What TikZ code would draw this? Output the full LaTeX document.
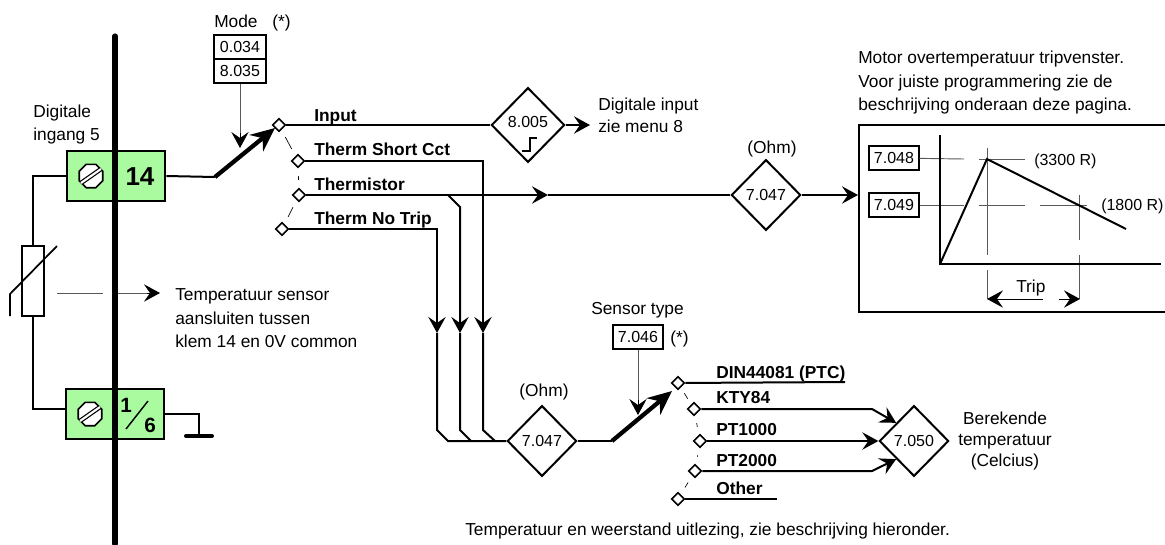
\documentclass[tikz,border=0pt]{standalone}
\usepackage{fontspec}
\setmainfont{Liberation Sans}
\usetikzlibrary{arrows.meta,positioning,shapes.geometric}
\definecolor{klem}{HTML}{AAFBA0}

\begin{document}
\begin{tikzpicture}[
        x=0.75pt, y=-0.75pt,
        every node/.style = {font=\fontsize{13}{15.8}\selectfont, inner sep=0pt},
        value/.style = {font=\fontsize{12}{14}\selectfont},
        bold/.style = {font=\fontsize{13}{15}\selectfont\bfseries, anchor=base west},
        plain/.style = {anchor=base west},
        wire/.style = {line width=1.5pt},
        pointer/.style = {line width=0.7pt, gray!70!black},
        lever/.style = {line width=3.2pt, -{Stealth[length=18pt, width=16pt, inset=6pt]}},
        tip/.style = {-{Stealth[length=12pt, width=13pt, inset=4.5pt]}},
        link/.style = {line width=0.5pt, shorten >=6pt, shorten <=6pt},
        param/.style = {diamond, draw, line width=1.5pt, fill=white, value, minimum width=52pt, minimum height=53pt},
        contact/.style = {diamond, draw, line width=1.2pt, fill=white, minimum size=10pt},
        box/.style = {rectangle, draw, line width=1.5pt, fill=white, value, minimum width=37pt, minimum height=18.5pt},
        klemblok/.style = {rectangle, draw, line width=1.5pt, fill=klem, minimum width=74pt, minimum height=37pt},
        screw/.style = {regular polygon, regular polygon sides=8, draw, line width=1.2pt, fill=white, minimum size=19pt},
        slot/.style = {line width=0.9pt, double=white, double distance=1.6pt}
    ]
    \clip (0,0) rectangle (1165,544);
    \useasboundingbox (0,0) rectangle (1165,544);

    \node[klemblok] (k14) at (116,176) {};
    \node[klemblok] (k16) at (115,414) {};
    \draw[line width=3.8pt, line cap=round] (115,36) -- (115,544);

    \node[screw] (s14) at (91,176) {};
    \node[screw] (s16) at (90,414) {};
    \draw[slot] (s14)+(-10,7) -- +(10,-7);
    \draw[slot] (s16)+(-10,7) -- +(10,-7);
    \node[font=\fontsize{19.5}{20}\selectfont\bfseries] (n14) at (140,177) {14};
    \node[font=\fontsize{15.5}{16}\selectfont\bfseries] (n1) at (126,405) {1};
    \node[font=\fontsize{15.5}{16}\selectfont\bfseries] (n6) at (150,425) {6};
    \draw[line width=1.1pt] (126,429) -- (148,401);

    \node[plain] (ingang) at (33,117) {Digitale};
    \node[plain] (ingang2) at (33,140) {ingang 5};

    \node[rectangle, draw, line width=1.5pt, fill=white, minimum width=17pt, minimum height=52pt] (ptc) at (33,281) {};
    \coordinate (kl) at (66,409);
    \draw[wire] (k14.west) -| (ptc.north);
    \draw[wire] (ptc.south) |- (kl);
    \draw[line width=1.3pt] (10,316) -- (10,294) -- (57,246);

    \coordinate (gnd) at (199,436);
    \coordinate (gndl) at (186,436);
    \coordinate (gndr) at (212,436);
    \draw[wire] (k16.east) -| (gnd);
    \draw[line width=3pt, line cap=round] (gndl) -- (gndr);

    \coordinate (pa) at (57,293);
    \coordinate (pb) at (103,293);
    \coordinate (pc) at (118,293);
    \coordinate (pd) at (147,293);
    \coordinate (pe) at (160,293);
    \node[plain] (sensor) at (175,300) {Temperatuur sensor};
    \node[plain] (sensor2) at (175,324) {aansluiten tussen};
    \node[plain] (sensor3) at (175,347) {klem 14 en 0V common};
    \draw[pointer] (pa) -- (pb);
    \draw[pointer] (pc) -- (pd);
    \draw[tip, line width=0.7pt] (pd) -- (pe);

    \node[box, minimum width=39pt] (m1) at (240,47) {0.034};
    \node[box, minimum width=39pt] (m2) at (240,71) {8.035};
    \node[plain] (mode) at (214,27) {Mode};
    \node[plain] (ster) at (272,27) {(*)};

    \coordinate (lever1) at (215,177);
    \coordinate (levertip) at (275,128);
    \draw[wire] (k14.east) -- (lever1);
    \draw[lever] (lever1) -- (levertip);
    \coordinate (mstub) at (240,133);
    \coordinate (mtip) at (240,148);
    \draw[pointer] (m2.south) -- (mstub);
    \draw[tip, line width=0.7pt] (mstub) -- (mtip);

    \node[contact] (c1) at (279,125) {};
    \node[contact] (c2) at (298,161) {};
    \node[contact] (c3) at (299,195) {};
    \node[contact] (c4) at (282,229) {};
    \draw[link] (c1) -- (c2);
    \draw[link] (c2) -- (c3);
    \draw[link] (c3) -- (c4);

    \node[bold] (linput) at (314,121) {Input};
    \node[bold] (lshort) at (314,155) {Therm Short Cct};
    \node[bold] (lther) at (314,190) {Thermistor};
    \node[bold] (lnotrip) at (314,224) {Therm No Trip};

    \node[param, minimum width=55pt, minimum height=56pt] (p8005) at (528,125) {};
    \node[value] (t8005) at (528,122) {8.005};
    \draw[wire] (522,151) -- (530,151) -- (530,138) -- (537,138);
    \draw[wire] (c1) -- (p8005);
    \node[plain] (dig) at (598,110) {Digitale input};
    \node[plain] (dig2) at (598,132) {zie menu 8};
    \coordinate (digtip) at (590,125);
    \draw[wire, tip] (p8005) -- (digtip);

    \node[param] (p7047a) at (766,195) {7.047};
    \node[above=1pt of p7047a, xshift=4.5pt] (ohma) {(Ohm)};
    \coordinate (tmid) at (548,195);
    \draw[wire, tip] (c3) -- (tmid);
    \draw[wire] (tmid) -- (p7047a);

    \node[param] (p7047b) at (542,441) {7.047};
    \node[above=3.3pt of p7047b, xshift=1.5pt] (ohmb) {(Ohm)};
    \coordinate (a1) at (437,333);
    \coordinate (a2) at (460,333);
    \coordinate (a3) at (483,333);
    \draw[wire, tip] (c4) -| (a1);
    \draw[wire, tip] (448,195) -- (460,207) -- (a2);
    \draw[wire, tip] (c2) -| (a3);
    \draw[wire] (a1) -- (437,430) -- (448,441) -- (p7047b);
    \draw[wire] (a2) -- (460,430) -- (471,441);
    \draw[wire] (a3) -- (483,430) -- (495,441);

    \coordinate (lever2) at (612,441);
    \coordinate (lever2tip) at (672,391);
    \draw[wire] (p7047b) -- (lever2);
    \draw[lever] (lever2) -- (lever2tip);
    \node[plain] (stype) at (591,314) {Sensor type};
    \node[box] (b7046) at (638,337) {7.046};
    \node[plain] (ster2) at (670,343) {(*)};
    \coordinate (sstub) at (638,400);
    \coordinate (stip) at (638,415);
    \draw[pointer] (b7046) -- (sstub);
    \draw[tip, line width=0.7pt] (sstub) -- (stip);

    \node[contact] (d1) at (678,383) {};
    \node[contact] (d2) at (694,409) {};
    \node[contact] (d3) at (700,441) {};
    \node[contact] (d4) at (695,471) {};
    \node[contact] (d5) at (678,499) {};
    \draw[link, shorten >=5pt, shorten <=5pt] (d1) -- (d2);
    \draw[link] (d2) -- (d3);
    \draw[link] (d3) -- (d4);
    \draw[link] (d4) -- (d5);

    \node[bold] (ldin) at (716,378) {DIN44081 (PTC)};
    \node[bold] (lkty) at (716,403) {KTY84};
    \node[bold] (lpt1) at (716,435) {PT1000};
    \node[bold] (lpt2) at (716,466) {PT2000};
    \node[bold] (loth) at (716,494) {Other};

    \node[param] (p7050) at (914,441) {7.050};
    \coordinate (dend) at (845,382);
    \coordinate (oend) at (777,499);
    \draw[wire] (d1) -- (dend);
    \draw[wire] (d5) -- (oend);
    \draw[wire, tip] (d2) -- (872,409) -- (p7050.north west);
    \draw[wire, tip] (d3) -- (p7050);
    \draw[wire, tip] (d4) -- (872,471) -- (p7050.south west);

    \node[align=center] (ber) at (1005,441) {Berekende\\temperatuur\\(Celcius)};
    \node[plain] (uitl) at (465,535) {Temperatuur en weerstand uitlezing, zie beschrijving hieronder.};

    \node[plain] (titel) at (858,63) {Motor overtemperatuur tripvenster.};
    \node[plain] (titel2) at (858,87) {Voor juiste programmering zie de};
    \node[plain] (titel3) at (858,110) {beschrijving onderaan deze pagina.};

    \coordinate (vtr) at (1170,125);
    \coordinate (vtl) at (859,125);
    \coordinate (vbl) at (859,312);
    \coordinate (vbr) at (1170,312);
    \draw[line width=0.8pt] (vtr) -- (vtl) -- (vbl) -- (vbr);
    \draw[wire, tip] (p7047a) -- (858,195);

    \node[box] (b7048) at (894,158) {7.048};
    \node[box] (b7049) at (894,205) {7.049};

    \draw[pointer] (b7048) -- (964,159);
    \draw[pointer] (979,159) -- (1025,159);
    \draw[pointer] (b7049) -- (964,205);
    \draw[pointer] (979,205) -- (1025,205);
    \draw[pointer] (1040,205) -- (1087,205);
    \draw[pointer] (987,148) -- (987,255);
    \draw[pointer] (987,270) -- (987,299);
    \draw[pointer] (1079,195) -- (1079,240);
    \draw[pointer] (1079,255) -- (1079,299);

    \draw[wire] (940,135) -- (940,264) -- (1161,264);
    \draw[wire] (940,264) -- (987,159) -- (1126,229);

    \node[plain, value] (r3300) at (1034,165) {(3300 R)};
    \node[plain, value] (r1800) at (1101,210) {(1800 R)};
    \node[plain] (ltrip) at (1016,292) {Trip};
    \coordinate (tl) at (987,299);
    \coordinate (tr) at (1080,299);
    \draw[tip, line width=0.7pt] (1043,299) -- (tl);
    \draw[tip, line width=0.7pt] (1059,299) -- (tr);
\end{tikzpicture}
\end{document}
